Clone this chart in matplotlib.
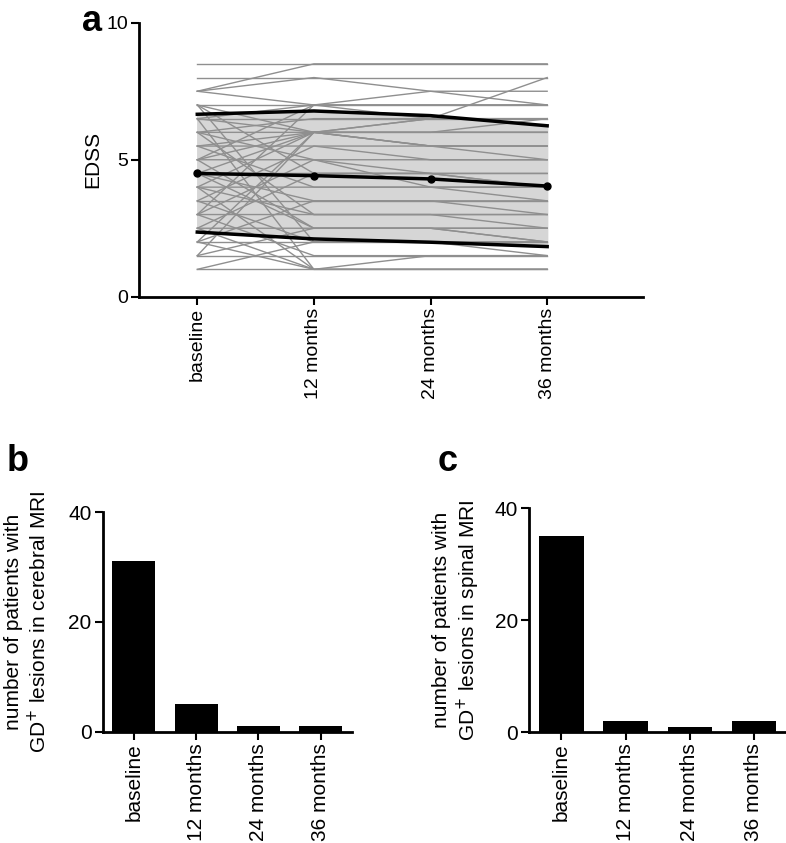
import matplotlib
matplotlib.use("Agg")
import matplotlib.pyplot as plt
import numpy as np

plt.rcParams['font.family'] = ['Liberation Sans', 'DejaVu Sans']

timepoints = ['baseline', '12 months', '24 months', '36 months']

# individual EDSS courses: baseline, 12, 24, 36 months
patients = [
    [8.5, 8.5, 8.5, 8.5], [8.0, 8.0, 8.0, 8.0], [7.5, 8.5, 8.5, 8.5],
    [7.5, 8.0, 7.5, 7.5], [7.5, 7.0, 7.5, 7.0], [7.0, 7.0, 7.0, 7.0],
    [7.0, 6.0, 6.5, 8.0], [6.5, 7.0, 7.0, 7.0], [6.5, 6.5, 6.5, 6.5],
    [6.5, 6.0, 6.0, 6.0], [6.0, 6.5, 6.5, 6.5], [6.0, 6.0, 5.5, 5.5],
    [6.0, 5.0, 5.0, 5.0], [5.5, 6.0, 6.5, 6.5], [5.5, 5.5, 5.5, 5.0],
    [5.5, 4.0, 4.0, 4.0], [5.0, 6.0, 6.0, 6.0], [5.0, 5.0, 4.5, 4.5],
    [5.0, 2.5, 2.5, 2.5], [4.5, 6.0, 5.5, 5.5], [4.5, 4.5, 4.5, 4.0],
    [4.5, 3.5, 3.5, 3.0], [4.0, 6.0, 6.0, 6.0], [4.0, 4.0, 4.0, 3.5],
    [4.0, 3.0, 3.0, 3.0], [4.0, 1.0, 1.0, 1.0], [3.5, 5.5, 5.0, 5.0],
    [3.5, 3.5, 3.5, 3.5], [3.5, 2.0, 2.0, 2.0], [3.0, 5.0, 4.0, 4.0],
    [3.0, 3.0, 3.0, 2.5], [3.0, 1.5, 1.5, 1.5], [2.5, 4.5, 4.5, 4.5],
    [2.5, 2.5, 2.5, 2.0], [2.5, 1.0, 1.0, 1.0], [2.0, 3.5, 3.5, 3.5],
    [2.0, 2.0, 2.0, 2.0], [1.5, 2.5, 2.5, 2.5], [1.5, 1.5, 1.5, 1.5],
    [1.0, 2.0, 2.0, 2.0], [1.0, 1.0, 1.0, 1.0], [7.0, 4.5, 4.5, 4.0],
    [7.0, 2.0, 2.0, 1.5], [6.5, 1.0, 1.5, 1.5], [1.5, 6.0, 6.0, 6.5],
    [2.0, 6.0, 5.5, 5.5], [5.0, 7.0, 7.0, 7.0], [4.5, 2.5, 2.5, 2.0],
    [3.0, 7.0, 6.5, 6.5], [6.0, 3.0, 3.0, 3.0], [2.0, 1.0, 1.0, 1.0],
]

# mean and mean +/- SD lines
edss_mean = [4.50, 4.42, 4.30, 4.04]
edss_upper = [6.66, 6.78, 6.61, 6.24]
edss_lower = [2.36, 2.11, 1.99, 1.83]

# number of patients with GD+ lesions
cerebral_counts = [31, 5, 1, 1]
spinal_counts = [35, 2, 1, 2]

FS = 15


def style_axes(ax, size=FS):
    for side in ['top', 'right']:
        ax.spines[side].set_visible(False)
    for side in ['left', 'bottom']:
        ax.spines[side].set_linewidth(2)
    ax.tick_params(direction='out', length=6, width=1.5, labelsize=size, pad=2)


fig = plt.figure(figsize=(7.86, 8.43), dpi=100)

# panel a
ax = fig.add_axes([0.1768, 0.648, 0.641, 0.325])
x = np.arange(len(timepoints))
ax.fill_between(x, edss_lower, edss_upper, color='#d6d6d6', zorder=1)
for p in patients:
    ax.plot(x, p, color='#8f8f8f', linewidth=1.0, zorder=2)
ax.plot(x, edss_upper, color='black', linewidth=2.5, zorder=3)
ax.plot(x, edss_lower, color='black', linewidth=2.5, zorder=3)
ax.plot(x, edss_mean, color='black', linewidth=2.5, marker='o', markersize=5, zorder=3)
ax.set_xlim(-0.5, 3.82)
ax.set_ylim(0, 10)
ax.set_yticks([0, 5, 10])
ax.set_xticks(x)
ax.set_xticklabels(timepoints, rotation=90)
ax.set_ylabel('EDSS', fontsize=FS, labelpad=3)
style_axes(ax, 14)
fig.text(0.104, 0.975, 'a', fontsize=26, fontweight='bold', va='center')

# panel b
axb = fig.add_axes([0.1307, 0.132, 0.3168, 0.2606])
axb.bar(x, cerebral_counts, width=0.69, color='black')
axb.set_xlim(-0.5, 3.5)
axb.set_ylim(0, 40)
axb.set_yticks([0, 20, 40])
axb.set_xticks(x)
axb.set_xticklabels(timepoints, rotation=90)
axb.set_ylabel('number of patients with\nGD$^{+}$ lesions in cerebral MRI', fontsize=FS, labelpad=13)
style_axes(axb)
fig.text(0.008, 0.452, 'b', fontsize=26, fontweight='bold', va='center')

# panel c
axc = fig.add_axes([0.6734, 0.1313, 0.3266, 0.2657])
axc.bar(x, spinal_counts, width=0.69, color='black')
axc.set_xlim(-0.5, 3.5)
axc.set_ylim(0, 40)
axc.set_yticks([0, 20, 40])
axc.set_xticks(x)
axc.set_xticklabels(timepoints, rotation=90)
axc.set_ylabel('number of patients with\nGD$^{+}$ lesions in spinal MRI', fontsize=FS, labelpad=9)
style_axes(axc)
fig.text(0.557, 0.452, 'c', fontsize=26, fontweight='bold', va='center')

fig.savefig('out.png', dpi=100)
